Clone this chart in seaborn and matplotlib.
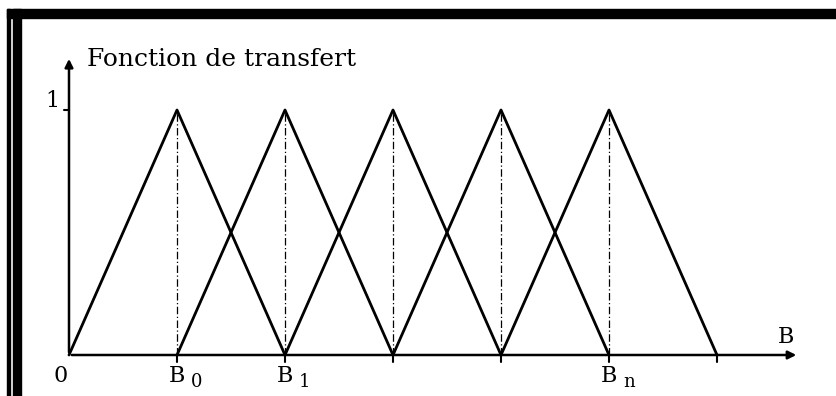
import numpy as np
import pandas as pd
import matplotlib
matplotlib.use('Agg')
import matplotlib.pyplot as plt
from matplotlib.patches import Rectangle
import seaborn as sns

# triangle membership functions: centres and half-width
centers = [1, 2, 3, 4, 5]
half_width = 1.0
shape_x = [-1, 0, 1]
shape_y = [0, 1, 0]

tick_pos = [0, 1, 2, 3, 4, 5, 6]
tick_labels = ['', 'B', 'B', '', '', 'B', '']
tick_subs = ['', '0', '1', '', '', 'n', '']

title = 'Fonction de transfert'

rows = []
for k, c in enumerate(centers):
    for sx, sy in zip(shape_x, shape_y):
        rows.append({'fn': k, 'x': c + sx * half_width, 'y': sy})
df = pd.DataFrame(rows)

sns.set_style('white')
plt.rcParams['font.family'] = ['DejaVu Serif']
plt.rcParams['text.color'] = 'black'

fig = plt.figure(figsize=(8.37, 3.96), dpi=100)
ax = fig.add_axes([0, 0, 1, 1])

# pixel-to-data mapping: origin at (69, 355), 108 px per unit in x, 245 px per unit in y
ax.set_xlim((0 - 69) / 108, (837 - 69) / 108)
ax.set_ylim((355 - 396) / 245, 355 / 245)
ax.axis('off')

sns.lineplot(data=df, x='x', y='y', units='fn', estimator=None, color='black',
             lw=2.0, ax=ax, legend=False, sort=False)

# dashed verticals under the peaks
for c in centers:
    ax.plot([c, c], [0, 1], color='black', lw=0.9, ls=(0, (6, 2, 1, 2)))

# axes with arrows
ax.annotate('', xy=(6.76, 0), xytext=(0, 0),
            arrowprops=dict(arrowstyle='-|>', color='black', lw=1.8, mutation_scale=12))
ax.annotate('', xy=(0, 1.22), xytext=(0, 0),
            arrowprops=dict(arrowstyle='-|>', color='black', lw=1.8, mutation_scale=12))

# ticks
for t in tick_pos[1:]:
    ax.plot([t, t], [0, -0.03], color='black', lw=1.5)
ax.plot([0, -0.05], [1, 1], color='black', lw=1.5)

fs = 16
for t, lab, sub in zip(tick_pos, tick_labels, tick_subs):
    if lab:
        ax.text(t, -0.04, lab, ha='center', va='top', fontsize=fs)
        ax.text(t + 0.13, -0.075, sub, ha='left', va='top', fontsize=fs - 3)
ax.text(-0.01, -0.04, '0', ha='right', va='top', fontsize=fs)
ax.text(-0.09, 0.99, '1', ha='right', va='bottom', fontsize=fs)
ax.text(6.64, 0.03, 'B', ha='center', va='bottom', fontsize=fs)
ax.text(0.17, 1.16, title, ha='left', va='bottom', fontsize=18)

# black frame (top bar and double left bar)
fig.patches.append(Rectangle((7 / 837, 1 - 18 / 396), 1, 9 / 396, transform=fig.transFigure,
                             color='black', zorder=5))
fig.patches.append(Rectangle((7 / 837, 0), 3 / 837, 1 - 9 / 396, transform=fig.transFigure,
                             color='black', zorder=5))
fig.patches.append(Rectangle((13 / 837, 0), 8 / 837, 1 - 9 / 396, transform=fig.transFigure,
                             color='black', zorder=5))

fig.savefig('out.png', dpi=100)
